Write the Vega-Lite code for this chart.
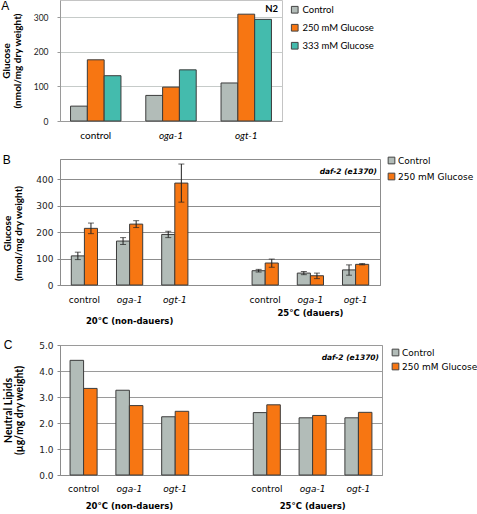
{
  "$schema": "https://vega.github.io/schema/vega-lite/v6.json",
  "background": "white",
  "padding": {"left": 0, "top": -1, "right": 0, "bottom": 0},
  "bounds": "flush",
  "spacing": 38,
  "resolve": {"scale": {"color": "independent", "xOffset": "independent"}},
  "config": {"view": {"stroke": "#b0b0b0"}, "axis": {"labelColor": "#222", "titleColor": "#000"}},
  "datasets": {
    "a": [
      {"strain": "control", "series": "Control", "value": 43},
      {"strain": "control", "series": "250 mM Glucose", "value": 177},
      {"strain": "control", "series": "333 mM Glucose", "value": 131},
      {"strain": "oga-1", "series": "Control", "value": 74},
      {"strain": "oga-1", "series": "250 mM Glucose", "value": 98},
      {"strain": "oga-1", "series": "333 mM Glucose", "value": 148},
      {"strain": "ogt-1", "series": "Control", "value": 110},
      {"strain": "ogt-1", "series": "250 mM Glucose", "value": 309},
      {"strain": "ogt-1", "series": "333 mM Glucose", "value": 294}
    ],
    "b": [
      {"slot": "20 control", "series": "Control", "value": 110, "lo": 96, "hi": 124},
      {"slot": "20 control", "series": "250 mM Glucose", "value": 214, "lo": 194, "hi": 234},
      {"slot": "20 oga-1", "series": "Control", "value": 166, "lo": 153, "hi": 179},
      {"slot": "20 oga-1", "series": "250 mM Glucose", "value": 230, "lo": 217, "hi": 243},
      {"slot": "20 ogt-1", "series": "Control", "value": 191, "lo": 179, "hi": 203},
      {"slot": "20 ogt-1", "series": "250 mM Glucose", "value": 385, "lo": 313, "hi": 457},
      {"slot": "25 control", "series": "Control", "value": 54, "lo": 49, "hi": 59},
      {"slot": "25 control", "series": "250 mM Glucose", "value": 83, "lo": 67, "hi": 98},
      {"slot": "25 oga-1", "series": "Control", "value": 45, "lo": 39, "hi": 51},
      {"slot": "25 oga-1", "series": "250 mM Glucose", "value": 35, "lo": 24, "hi": 45},
      {"slot": "25 ogt-1", "series": "Control", "value": 57, "lo": 37, "hi": 76},
      {"slot": "25 ogt-1", "series": "250 mM Glucose", "value": 78, "lo": 76, "hi": 81}
    ],
    "c": [
      {"slot": "20 control", "series": "Control", "value": 4.41},
      {"slot": "20 control", "series": "250 mM Glucose", "value": 3.33},
      {"slot": "20 oga-1", "series": "Control", "value": 3.26},
      {"slot": "20 oga-1", "series": "250 mM Glucose", "value": 2.67},
      {"slot": "20 ogt-1", "series": "Control", "value": 2.24},
      {"slot": "20 ogt-1", "series": "250 mM Glucose", "value": 2.45},
      {"slot": "25 control", "series": "Control", "value": 2.40},
      {"slot": "25 control", "series": "250 mM Glucose", "value": 2.70},
      {"slot": "25 oga-1", "series": "Control", "value": 2.20},
      {"slot": "25 oga-1", "series": "250 mM Glucose", "value": 2.29},
      {"slot": "25 ogt-1", "series": "Control", "value": 2.20},
      {"slot": "25 ogt-1", "series": "250 mM Glucose", "value": 2.41}
    ]
  },
  "vconcat": [
    {
      "width": 222,
      "height": 121,
      "title": {"text": "A", "anchor": "start", "frame": "bounds", "offset": -13, "font": "Liberation Sans", "fontSize": 12, "fontWeight": "normal", "color": "#000"},
      "view": {"stroke": "#c4c4c4"},
      "layer": [
        {
          "data": {"name": "a"},
          "mark": {"type": "bar", "stroke": "#3c3c3c", "strokeWidth": 1},
          "encoding": {
            "x": {"field": "strain", "type": "nominal", "sort": ["control", "oga-1", "ogt-1"],
              "scale": {"paddingInner": 0.33, "paddingOuter": 0.14},
              "axis": {"title": null, "ticks": false, "domainColor": "#9a9a9a", "labelAngle": 0, "labelFont": "Lato", "labelFontSize": 10, "labelColor": "#000", "labelPadding": 9,
                "labelFontStyle": {"condition": {"test": "datum.value != 'control'", "value": "italic"}, "value": "normal"}}},
            "xOffset": {"field": "series", "type": "nominal", "sort": ["Control", "250 mM Glucose", "333 mM Glucose"], "scale": {"paddingInner": 0, "paddingOuter": 0}},
            "y": {"field": "value", "type": "quantitative", "scale": {"domain": [0, 350], "nice": false},
              "axis": {"values": [0, 100, 200, 300], "labelOverlap": false, "labelFlush": false, "title": ["Glucose", "(nmol/mg dry weight)"], "titleFont": "Lato", "titleFontSize": 10, "titleFontWeight": "bold", "titlePadding": 11, "titleLineHeight": 11,
                "labelFont": "Lato", "labelFontSize": 8.5, "labelPadding": 9, "tickSize": 3, "tickColor": "#9a9a9a", "domainColor": "#9a9a9a", "gridColor": "#c6cbc9"}},
            "color": {"field": "series", "type": "nominal",
              "scale": {"domain": ["Control", "250 mM Glucose", "333 mM Glucose"], "range": ["#b2bcb8", "#f77612", "#44bbad"]},
              "legend": {"title": null, "orient": "none", "legendX": 230, "legendY": 5, "symbolType": "square", "symbolSize": 45, "symbolStrokeColor": "#444", "symbolStrokeWidth": 1, "labelFont": "Lato", "labelFontSize": 9.5, "labelColor": "#000", "rowPadding": 6, "labelOffset": 3}}
          }
        },
        {
          "data": {"values": [{"label": "N2"}]},
          "mark": {"type": "text", "align": "right", "baseline": "middle", "dx": -4, "dy": 9, "font": "Lato", "fontSize": 9.5, "fontWeight": "bold", "color": "#000"},
          "encoding": {"x": {"value": "width"}, "y": {"value": 0}, "text": {"field": "label"}}
        }
      ]
    },
    {
      "bounds": "flush",
      "spacing": 60,
      "resolve": {"scale": {"color": "independent", "xOffset": "independent"}},
      "vconcat": [
        {
          "width": 320,
          "height": 126,
          "title": {"text": "B", "anchor": "start", "frame": "bounds", "offset": -11, "font": "Liberation Sans", "fontSize": 12, "fontWeight": "normal", "color": "#000"},
          "view": {"stroke": "#8c8c8c"},
          "layer": [
            {
              "data": {"name": "b"},
              "mark": {"type": "bar", "stroke": "#3c3c3c", "strokeWidth": 1},
              "encoding": {
                "x": {"field": "slot", "type": "nominal",
                  "scale": {"domain": ["20 control", "20 oga-1", "20 ogt-1", "gap", "25 control", "25 oga-1", "25 ogt-1"], "paddingInner": 0.42, "paddingOuter": 0.25},
                  "axis": {"title": null, "ticks": false, "domainColor": "#8c8c8c", "labelAngle": 0, "labelFont": "DejaVu Sans", "labelFontSize": 9, "labelColor": "#000", "labelPadding": 10,
                    "labelExpr": "datum.value == 'gap' ? '' : substring(datum.value, 3)",
                    "labelFontStyle": {"condition": {"test": "indexof(datum.value, 'control') < 0", "value": "italic"}, "value": "normal"}}},
                "xOffset": {"field": "series", "type": "nominal", "sort": ["Control", "250 mM Glucose"], "scale": {"paddingInner": 0, "paddingOuter": 0}},
                "y": {"field": "value", "type": "quantitative", "scale": {"domain": [0, 476], "nice": false},
                  "axis": {"values": [0, 100, 200, 300, 400], "labelOverlap": false, "labelFlush": false, "title": ["Glucose", "(nmol/mg dry weight)"], "titleFont": "Lato", "titleFontSize": 10, "titleFontWeight": "bold", "titlePadding": 12, "titleLineHeight": 11, "titleY": 74,
                    "labelFont": "DejaVu Sans", "labelFontSize": 9, "labelPadding": 4, "tickSize": 3, "tickColor": "#8c8c8c", "domainColor": "#8c8c8c", "gridColor": "#8c8c8c"}},
                "color": {"field": "series", "type": "nominal",
                  "scale": {"domain": ["Control", "250 mM Glucose"], "range": ["#b2bcb8", "#f77612"]},
                  "legend": {"title": null, "orient": "none", "legendX": 327, "legendY": -3, "symbolType": "square", "symbolSize": 45, "symbolStrokeColor": "#444", "symbolStrokeWidth": 1, "labelFont": "DejaVu Sans", "labelFontSize": 9, "labelColor": "#000", "rowPadding": 5, "labelOffset": 2}}
              }
            },
            {
              "data": {"name": "b"},
              "mark": {"type": "rule", "color": "#222", "strokeWidth": 1},
              "encoding": {
                "x": {"field": "slot", "type": "nominal"},
                "xOffset": {"field": "series", "type": "nominal", "sort": ["Control", "250 mM Glucose"]},
                "y": {"field": "lo", "type": "quantitative",
                  "axis": {"values": [0, 100, 200, 300, 400], "labelOverlap": false, "labelFlush": false, "title": ["Glucose", "(nmol/mg dry weight)"], "titleFont": "Lato", "titleFontSize": 10, "titleFontWeight": "bold", "titlePadding": 12, "titleLineHeight": 11, "titleY": 74,
                    "labelFont": "DejaVu Sans", "labelFontSize": 9, "labelPadding": 4, "tickSize": 3, "tickColor": "#8c8c8c", "domainColor": "#8c8c8c", "gridColor": "#8c8c8c"}},
                "y2": {"field": "hi"}
              }
            },
            {
              "data": {"name": "b"},
              "mark": {"type": "tick", "color": "#222", "thickness": 1, "size": 6},
              "encoding": {
                "x": {"field": "slot", "type": "nominal"},
                "xOffset": {"field": "series", "type": "nominal", "sort": ["Control", "250 mM Glucose"]},
                "y": {"field": "lo", "type": "quantitative",
                  "axis": {"values": [0, 100, 200, 300, 400], "labelOverlap": false, "labelFlush": false, "title": ["Glucose", "(nmol/mg dry weight)"], "titleFont": "Lato", "titleFontSize": 10, "titleFontWeight": "bold", "titlePadding": 12, "titleLineHeight": 11, "titleY": 74,
                    "labelFont": "DejaVu Sans", "labelFontSize": 9, "labelPadding": 4, "tickSize": 3, "tickColor": "#8c8c8c", "domainColor": "#8c8c8c", "gridColor": "#8c8c8c"}}
              }
            },
            {
              "data": {"name": "b"},
              "mark": {"type": "tick", "color": "#222", "thickness": 1, "size": 6},
              "encoding": {
                "x": {"field": "slot", "type": "nominal"},
                "xOffset": {"field": "series", "type": "nominal", "sort": ["Control", "250 mM Glucose"]},
                "y": {"field": "hi", "type": "quantitative",
                  "axis": {"values": [0, 100, 200, 300, 400], "labelOverlap": false, "labelFlush": false, "title": ["Glucose", "(nmol/mg dry weight)"], "titleFont": "Lato", "titleFontSize": 10, "titleFontWeight": "bold", "titlePadding": 12, "titleLineHeight": 11, "titleY": 74,
                    "labelFont": "DejaVu Sans", "labelFontSize": 9, "labelPadding": 4, "tickSize": 3, "tickColor": "#8c8c8c", "domainColor": "#8c8c8c", "gridColor": "#8c8c8c"}}
              }
            },
            {
              "data": {"values": [{"slot": "20 oga-1", "label": "20°C (non-dauers)"}]},
              "mark": {"type": "text", "baseline": "middle", "dy": 36, "font": "DejaVu Sans", "fontSize": 8.5, "fontWeight": "bold", "color": "#000"},
              "encoding": {"x": {"field": "slot", "type": "nominal"}, "y": {"value": "height"}, "text": {"field": "label"}}
            },
            {
              "data": {"values": [{"slot": "25 oga-1", "label": "25°C (dauers)"}]},
              "mark": {"type": "text", "baseline": "middle", "dy": 28, "font": "DejaVu Sans", "fontSize": 8.5, "fontWeight": "bold", "color": "#000"},
              "encoding": {"x": {"field": "slot", "type": "nominal"}, "y": {"value": "height"}, "text": {"field": "label"}}
            },
            {
              "data": {"values": [{"label": "daf-2 (e1370)"}]},
              "mark": {"type": "text", "align": "right", "baseline": "middle", "dx": -3, "dy": 13, "font": "DejaVu Sans", "fontSize": 7.5, "fontWeight": "bold", "fontStyle": "italic", "color": "#000"},
              "encoding": {"x": {"value": "width"}, "y": {"value": 0}, "text": {"field": "label"}}
            }
          ]
        },
        {
          "width": 322,
          "height": 130,
          "title": {"text": "C", "anchor": "start", "frame": "bounds", "offset": -11, "font": "Liberation Sans", "fontSize": 12, "fontWeight": "normal", "color": "#000"},
          "view": {"stroke": "#9a9a9a"},
          "layer": [
            {
              "data": {"name": "c"},
              "mark": {"type": "bar", "stroke": "#3c3c3c", "strokeWidth": 1},
              "encoding": {
                "x": {"field": "slot", "type": "nominal",
                  "scale": {"domain": ["20 control", "20 oga-1", "20 ogt-1", "gap", "25 control", "25 oga-1", "25 ogt-1"], "paddingInner": 0.41, "paddingOuter": 0.22},
                  "axis": {"title": null, "ticks": false, "domainColor": "#8c8c8c", "labelAngle": 0, "labelFont": "DejaVu Sans", "labelFontSize": 9, "labelColor": "#000", "labelPadding": 9,
                    "labelExpr": "datum.value == 'gap' ? '' : substring(datum.value, 3)",
                    "labelFontStyle": {"condition": {"test": "indexof(datum.value, 'control') < 0", "value": "italic"}, "value": "normal"}}},
                "xOffset": {"field": "series", "type": "nominal", "sort": ["Control", "250 mM Glucose"], "scale": {"paddingInner": 0, "paddingOuter": 0}},
                "y": {"field": "value", "type": "quantitative", "scale": {"domain": [0, 5], "nice": false},
                  "axis": {"values": [0, 1, 2, 3, 4, 5], "format": ".1f", "labelOverlap": false, "labelFlush": false, "title": ["Neutral Lipids", "(µg/mg dry weight)"], "titleFont": "Lato", "titleFontSize": 10.5, "titleFontWeight": "bold", "titlePadding": 14, "titleLineHeight": 11,
                    "labelFont": "DejaVu Sans", "labelFontSize": 9, "labelPadding": 4, "tickSize": 3, "tickColor": "#8c8c8c", "domainColor": "#8c8c8c", "gridColor": "#9a9a9a"}},
                "color": {"field": "series", "type": "nominal",
                  "scale": {"domain": ["Control", "250 mM Glucose"], "range": ["#b2bcb8", "#f77612"]},
                  "legend": {"title": null, "orient": "none", "legendX": 331, "legendY": 3, "symbolType": "square", "symbolSize": 45, "symbolStrokeColor": "#444", "symbolStrokeWidth": 1, "labelFont": "DejaVu Sans", "labelFontSize": 9, "labelColor": "#000", "rowPadding": 3, "labelOffset": 2}}
              }
            },
            {
              "data": {"values": [{"slot": "20 oga-1", "label": "20°C (non-dauers)"}, {"slot": "25 oga-1", "label": "25°C (dauers)"}]},
              "mark": {"type": "text", "baseline": "middle", "dy": 31, "font": "DejaVu Sans", "fontSize": 8.5, "fontWeight": "bold", "color": "#000"},
              "encoding": {"x": {"field": "slot", "type": "nominal"}, "y": {"value": "height"}, "text": {"field": "label"}}
            },
            {
              "data": {"values": [{"label": "daf-2 (e1370)"}]},
              "mark": {"type": "text", "align": "right", "baseline": "middle", "dx": -3, "dy": 13, "font": "DejaVu Sans", "fontSize": 7.5, "fontWeight": "bold", "fontStyle": "italic", "color": "#000"},
              "encoding": {"x": {"value": "width"}, "y": {"value": 0}, "text": {"field": "label"}}
            }
          ]
        }
      ]
    }
  ]
}
